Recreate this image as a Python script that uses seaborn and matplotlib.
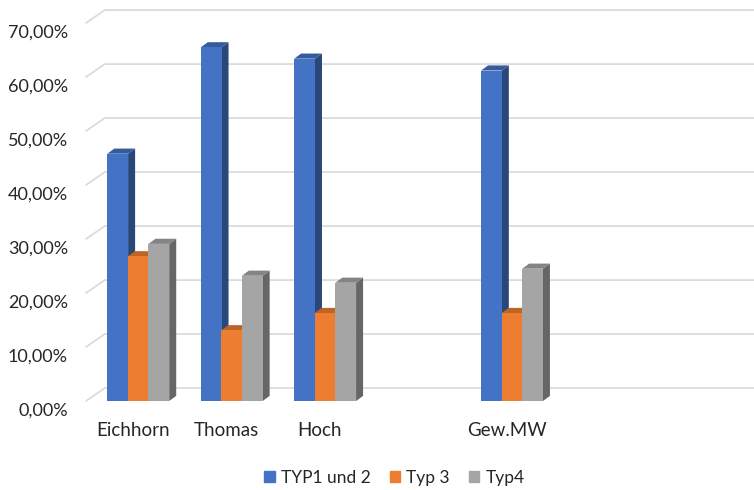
import pandas as pd
import matplotlib.pyplot as plt
import matplotlib.colors as mcolors
import matplotlib.transforms as mtransforms
from matplotlib.patches import Polygon
from matplotlib.ticker import FuncFormatter
import seaborn as sns

# Werte (Anteile)
kategorien = ["Eichhorn", "Thomas", "Hoch", "Gew.MW"]
typ1_und_2 = [0.458, 0.655, 0.634, 0.612]
typ3 = [0.268, 0.131, 0.163, 0.163]
typ4 = [0.291, 0.232, 0.219, 0.245]
serien = ["TYP1 und 2", "Typ 3", "Typ4"]
# leere Plätze auf der x-Achse wie im Original
reihenfolge = ["Eichhorn", "Thomas", "Hoch", " ", "Gew.MW", "  ", "   "]

df = pd.DataFrame({
    "Kategorie": kategorien * 3,
    "Serie": [serien[0]] * 4 + [serien[1]] * 4 + [serien[2]] * 4,
    "Wert": typ1_und_2 + typ3 + typ4,
})

farben = ["#4472C4", "#ED7D31", "#A5A5A5"]

sns.set_theme(style="white")
plt.rcParams["font.family"] = ["Lato", "DejaVu Sans"]

fig = plt.figure(figsize=(7.54, 4.90), dpi=100)
ax = fig.add_axes([0.1141, 0.1816, 0.8674, 0.7714])

sns.barplot(data=df, x="Kategorie", y="Wert", hue="Serie", order=reihenfolge,
            hue_order=serien, palette=farben, width=0.66, dodge=True,
            saturation=1, linewidth=0, ax=ax, legend=False)

# Pseudo-3D: Seiten- und Deckflächen an jedem Balken
versatz = 0.058
dx, dy = 0.075, 0.0095
rgb_farben = [mcolors.to_rgb(f) for f in farben]
for p in list(ax.patches):
    h = p.get_height()
    if h <= 0:
        continue
    c = mcolors.to_rgb(p.get_facecolor())
    idx = min(range(3), key=lambda i: sum((a - b) ** 2 for a, b in zip(c, rgb_farben[i])))
    z = 3 + idx
    p.set_x(p.get_x() + versatz)
    p.set_width(p.get_width() * 1.01)
    p.set_zorder(z + 0.5)
    x0, w = p.get_x(), p.get_width()
    dunkel = tuple(v * 0.62 for v in c)
    mittel = tuple(v * 0.8 for v in c)
    seite = Polygon([(x0 + w, 0), (x0 + w + dx, dy), (x0 + w + dx, h + dy), (x0 + w, h)],
                    closed=True, facecolor=dunkel, edgecolor="none", zorder=z)
    deckel = Polygon([(x0, h), (x0 + dx, h + dy), (x0 + w + dx, h + dy), (x0 + w, h)],
                     closed=True, facecolor=mittel, edgecolor="none", zorder=z)
    ax.add_patch(seite)
    ax.add_patch(deckel)

ax.set_xlim(-0.5, 6.5)
ax.set_ylim(0, 0.70)
ticks = [i / 10 for i in range(8)]
ax.set_yticks(ticks)
ax.yaxis.set_major_formatter(FuncFormatter(lambda v, _: f"{v * 100:.2f}%".replace(".", ",")))
ax.grid(False)

# Gitterlinien auf der Rückwand mit schrägem Anfang (3D-Optik)
gdx, gdy = 0.2, 0.024
for t in ticks:
    ax.plot([-0.5, -0.5 + gdx, 6.8], [t, t + gdy, t + gdy], color="#D9D9D9",
            lw=1.2, clip_on=False, zorder=1)

for s in ax.spines.values():
    s.set_visible(False)
ax.tick_params(axis="both", length=0, colors="#262626")
ax.tick_params(axis="y", labelsize=13, pad=13)
ax.tick_params(axis="x", labelsize=13.5, pad=15)
ax.set_xlabel("")
ax.set_ylabel("")

# Achsenbeschriftung links etwas tiefer wie bei Excel-3D
verschiebung = mtransforms.ScaledTranslation(0, -0.08, fig.dpi_scale_trans)
for lab in ax.get_yticklabels():
    lab.set_transform(lab.get_transform() + verschiebung)

handles = [plt.Rectangle((0, 0), 1, 1, color=f) for f in farben]
fig.legend(handles, serien, loc="center", bbox_to_anchor=(0.523, 0.025), ncol=3,
           frameon=False, fontsize=12.5, handlelength=0.6, handleheight=0.6,
           handletextpad=0.35, columnspacing=1.1, labelcolor="#262626",
           borderpad=0.1)

fig.savefig("out.png", dpi=100)
